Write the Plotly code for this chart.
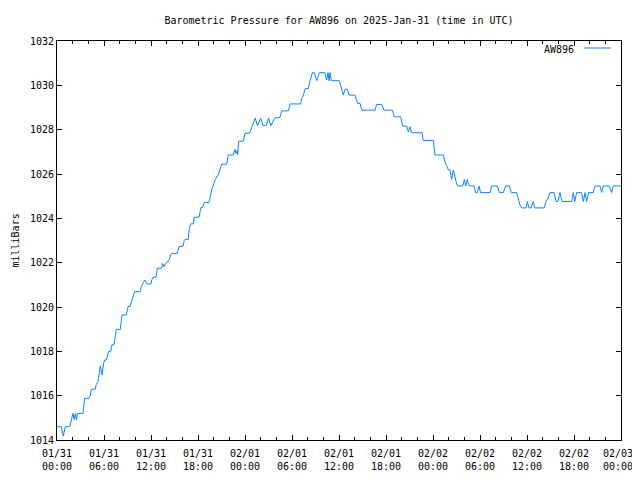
import pandas as pd
import plotly.graph_objects as go

# Hours after 2025-01-31 00:00 UTC
hours = [0, 0.55, 0.81, 1.06, 1.62, 1.74, 1.91, 2.04, 2.17, 2.34, 2.47, 2.6, 3.32, 3.53, 4.09, 4.26,
         4.38, 4.89, 5.02, 5.23, 5.36, 5.53, 5.66, 5.74, 5.96, 6.08, 6.3, 6.43, 6.6, 6.85, 7.02, 7.28,
         7.36, 7.57, 8.08, 8.3, 8.85, 9.06, 9.32, 9.49, 9.91, 10.6, 10.77, 11.02, 11.19, 11.53, 12.0,
         12.1, 12.25, 12.64, 12.81, 13.36, 13.49, 13.66, 13.83, 14.08, 14.34, 14.51, 14.64, 15.36,
         15.57, 16.1, 16.25, 16.38, 16.76, 16.89, 17.06, 17.4, 17.53, 18.13, 18.25, 18.38, 18.6,
         18.8, 19.4, 19.53, 19.74, 20.04, 20.2, 20.59, 20.8, 21.02, 21.66, 21.87, 22.51, 22.72,
         22.85, 22.98, 23.06, 23.19, 23.79, 24.0, 24.6, 25.0, 25.3, 25.6, 26.0, 26.3, 26.7, 27.0,
         27.3, 27.8, 28.47, 28.68, 29.53, 29.75, 31.1, 31.24, 31.45, 31.7, 32.1, 32.2, 32.4, 32.6,
         32.85, 33.0, 33.15, 33.32, 33.49, 34.2, 34.43, 34.6, 34.73, 34.85, 35.02, 36.04, 36.2,
         36.43, 36.55, 36.77, 37.07, 37.28, 38.04, 38.26, 38.38, 38.68, 38.9, 40.6, 40.8, 41.45,
         41.75, 42.81, 43.06, 43.87, 44.0, 44.13, 44.64, 44.85, 45.06, 45.23, 46.6, 46.75, 48.05,
         48.26, 49.32, 49.53, 49.74, 49.96, 50.17, 50.38, 50.6, 50.77, 50.94, 51.15, 51.79, 52.0,
         52.17, 52.38, 52.55, 52.72, 53.23, 53.45, 53.66, 53.87, 54.08, 55.28, 55.49, 56.21, 56.47,
         56.98, 57.28, 57.74, 58.0, 58.68, 58.89, 59.11, 59.32, 59.87, 60.04, 60.25, 60.51, 60.81,
         60.98, 62.17, 62.43, 62.68, 62.94, 63.45, 63.7, 63.96, 64.21, 64.47, 65.7, 65.91, 66.09,
         66.34, 66.98, 67.19, 67.4, 67.62, 67.87, 68.47, 68.68, 69.32, 69.53, 69.74, 70.5, 70.8,
         71.02, 72.0]

# Pressure in millibars
pressure = [1014.60, 1014.60, 1014.18, 1014.60, 1014.60, 1014.83, 1015.02, 1015.20, 1014.93, 1015.18,
            1014.90, 1015.20, 1015.20, 1015.88, 1015.88, 1016.03, 1016.29, 1016.29, 1016.53, 1016.63,
            1017.01, 1017.34, 1017.08, 1016.93, 1017.46, 1017.61, 1017.61, 1017.79, 1018.00, 1018.00,
            1018.29, 1018.29, 1018.51, 1018.99, 1018.99, 1019.64, 1019.64, 1020.02, 1020.02, 1020.24,
            1020.69, 1020.69, 1020.92, 1021.10, 1021.22, 1021.04, 1021.04, 1021.22, 1021.34, 1021.34,
            1021.75, 1021.75, 1021.97, 1021.82, 1021.94, 1022.03, 1022.15, 1022.35, 1022.42, 1022.42,
            1022.72, 1022.75, 1023.02, 1023.05, 1023.05, 1023.55, 1023.75, 1023.75, 1024.05, 1024.05,
            1024.38, 1024.50, 1024.50, 1024.72, 1024.72, 1024.98, 1025.28, 1025.58, 1025.76, 1025.96,
            1026.26, 1026.44, 1026.44, 1026.86, 1026.86, 1027.11, 1026.93, 1027.05, 1026.86, 1027.48,
            1027.48, 1027.84, 1027.84, 1028.18, 1028.52, 1028.18, 1028.52, 1028.18, 1028.18, 1028.52,
            1028.18, 1028.52, 1028.55, 1028.85, 1028.85, 1029.16, 1029.16, 1029.41, 1029.56, 1029.86,
            1029.86, 1030.09, 1030.31, 1030.57, 1030.57, 1030.42, 1030.21, 1030.39, 1030.57, 1030.57,
            1030.24, 1030.57, 1030.21, 1030.57, 1030.21, 1030.21, 1029.94, 1029.71, 1029.56, 1029.82,
            1029.82, 1029.56, 1029.56, 1029.34, 1029.19, 1029.19, 1028.88, 1028.88, 1029.14, 1029.14,
            1028.88, 1028.88, 1028.58, 1028.58, 1028.36, 1028.16, 1028.16, 1027.90, 1028.13, 1027.86,
            1027.86, 1027.51, 1027.51, 1026.86, 1026.86, 1026.52, 1026.37, 1026.19, 1026.19, 1025.76,
            1026.19, 1025.88, 1025.66, 1025.46, 1025.46, 1025.76, 1025.46, 1025.76, 1025.51, 1025.46,
            1025.46, 1025.16, 1025.16, 1025.46, 1025.16, 1025.16, 1025.46, 1025.46, 1025.16, 1025.16,
            1025.46, 1025.46, 1025.16, 1025.16, 1024.90, 1024.60, 1024.47, 1024.47, 1024.76, 1024.47,
            1024.47, 1024.76, 1024.47, 1024.47, 1024.76, 1024.90, 1025.16, 1025.16, 1024.76, 1024.76,
            1025.16, 1024.76, 1024.76, 1025.16, 1024.76, 1025.16, 1025.16, 1024.76, 1025.16, 1024.76,
            1025.16, 1025.16, 1025.46, 1025.46, 1025.16, 1025.46, 1025.46, 1025.16, 1025.46, 1025.46]

station = "AW896"
title_text = "Barometric Pressure for AW896 on 2025-Jan-31 (time in UTC)"
y_label = "milliBars"
start = pd.Timestamp("2025-01-31 00:00")
end = pd.Timestamp("2025-02-03 00:00")

times = start + pd.to_timedelta(hours, unit="h")

FONT = "DejaVu Sans Mono"
LINE = "#0a84ff"

# the page body adds an 8px offset; size the figure to compensate
W, H = 632, 464

fig = go.Figure()
fig.add_trace(go.Scatter(x=times, y=pressure, mode="lines", name=station,
                         line=dict(color=LINE, width=1), showlegend=False))

fig.update_layout(
    width=W, height=H,
    margin=dict(l=49, r=19, t=33, b=32, autoexpand=False),
    paper_bgcolor="white", plot_bgcolor="white",
    font=dict(family=FONT, size=10, color="black"),
    title=dict(text=title_text, x=0.5, xref="paper", xanchor="center",
               y=1 - 12 / H, yref="container", yanchor="middle",
               font=dict(family=FONT, size=10, color="black")),
    xaxis=dict(type="date", range=[start, end], dtick=6 * 3600 * 1000, tick0=start,
               tickformat="%m/%d<br>%H:%M", ticks="inside", ticklen=5, tickwidth=1,
               tickcolor="black", showline=True, linecolor="black", linewidth=1,
               mirror="ticks", showgrid=False, zeroline=False, automargin=False,
               ticklabelstandoff=4, ticklabeloverflow="allow",
               labelalias={"02/03<br>00:00": "02/03\u00a0<br>00:00\u00a0"},
               minor=dict(dtick=2 * 3600 * 1000, ticks="inside", ticklen=3,
                          tickcolor="black", showgrid=False)),
    yaxis=dict(range=[1014, 1032], dtick=2, ticks="inside", ticklen=5, tickwidth=1,
               tickcolor="black", showline=True, linecolor="black", linewidth=1,
               mirror="ticks", showgrid=False, zeroline=False, automargin=False),
)

fig.add_annotation(text=y_label, textangle=-90, xref="paper", yref="paper",
                   x=(15 - 57) / 564, y=0.5, xanchor="center", yanchor="middle",
                   showarrow=False, font=dict(family=FONT, size=10, color="black"))

# key (text then line sample, gnuplot style)
fig.add_annotation(text=station, xref="paper", yref="paper",
                   x=(576 - 57) / 564, y=(440 - 49) / 399, xanchor="right", yanchor="middle",
                   showarrow=False, font=dict(family=FONT, size=10, color="black"))
fig.add_shape(type="line", xref="paper", yref="paper",
              x0=(584 - 57) / 564, x1=(611 - 57) / 564,
              y0=(440 - 48) / 399, y1=(440 - 48) / 399,
              line=dict(color=LINE, width=1))

fig.write_html("out.html")
